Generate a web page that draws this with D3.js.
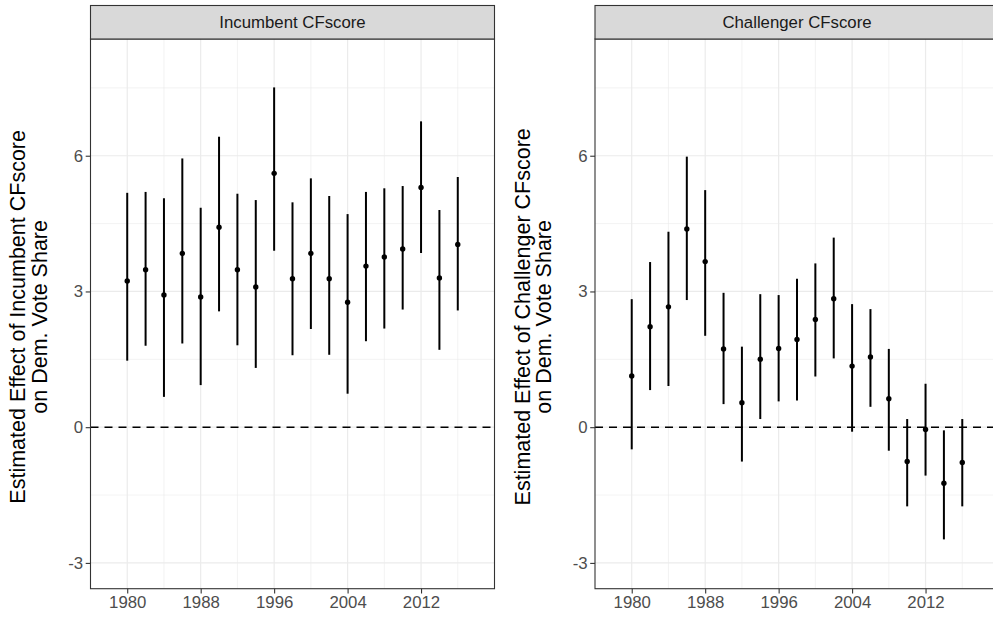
<!DOCTYPE html>
<html>
<head>
<meta charset="utf-8">
<script src="https://cdn.jsdelivr.net/npm/d3@7"></script>
<style>
  body { margin: 0; background: #fff; }
  svg { display: block; font-family: "Liberation Sans", Arial, sans-serif; }
</style>
</head>
<body>
<div id="chart"></div>
<script>
// election years (one estimate per cycle)
const years = [1980, 1982, 1984, 1986, 1988, 1990, 1992, 1994, 1996, 1998,
               2000, 2002, 2004, 2006, 2008, 2010, 2012, 2014, 2016];

// Incumbent CFscore: estimate and 95% interval
const incEst = [3.23, 3.48, 2.92, 3.84, 2.88, 4.42, 3.48, 3.10, 5.61, 3.28,
                3.84, 3.28, 2.76, 3.56, 3.76, 3.94, 5.30, 3.30, 4.04];
const incLo  = [1.47, 1.80, 0.67, 1.85, 0.93, 2.56, 1.81, 1.31, 3.90, 1.59,
                2.17, 1.60, 0.74, 1.90, 2.18, 2.60, 3.85, 1.71, 2.58];
const incHi  = [5.18, 5.20, 5.06, 5.94, 4.85, 6.42, 5.16, 5.02, 7.51, 4.97,
                5.50, 5.11, 4.71, 5.20, 5.28, 5.33, 6.76, 4.80, 5.53];

// Challenger CFscore: estimate and 95% interval
const chaEst = [1.13, 2.22, 2.66, 4.38, 3.66, 1.73, 0.54, 1.50, 1.74, 1.94,
                2.38, 2.84, 1.35, 1.55, 0.63, -0.76, -0.05, -1.24, -0.78];
const chaLo  = [-0.49, 0.82, 0.91, 2.81, 2.02, 0.51, -0.76, 0.18, 0.57, 0.59,
                1.12, 1.52, -0.10, 0.45, -0.52, -1.75, -1.07, -2.48, -1.75];
const chaHi  = [2.83, 3.65, 4.32, 5.98, 5.24, 2.97, 1.78, 2.94, 2.92, 3.28,
                3.62, 4.19, 2.72, 2.61, 1.73, 0.18, 0.96, -0.07, 0.18];

const xTicks = [1980, 1988, 1996, 2004, 2012];
const xMinor = [1984, 1992, 2000, 2008, 2016];
const yTicks = [-3, 0, 3, 6];
const yMinor = [-1.5, 1.5, 4.5, 7.5];

const panels = [
  {strip: "Incumbent CFscore", est: incEst, lo: incLo, hi: incHi,
   title: ["Estimated Effect of Incumbent CFscore", "on Dem. Vote Share"], left: 90.5},
  {strip: "Challenger CFscore", est: chaEst, lo: chaLo, hi: chaHi,
   title: ["Estimated Effect of Challenger CFscore", "on Dem. Vote Share"], left: 595}
];

const W = 993, H = 617;
const panelW = 404, panelTop = 39, panelBottom = 588.7, stripTop = 5.5;
const ph = panelBottom - panelTop;

const svg = d3.select("#chart").append("svg")
    .attr("width", W)
    .attr("height", H);

const x = d3.scaleLinear().domain([1976, 2020]).range([0, panelW]);
const y = d3.scaleLinear().domain([-3.57, 8.58]).range([ph, 0]);

panels.forEach(p => {
    const g = svg.append("g").attr("transform", `translate(${p.left}, ${panelTop})`);

    // background + grid
    g.append("rect").attr("width", panelW).attr("height", ph).attr("fill", "#fff");
    g.selectAll(".ymin").data(yMinor).enter().append("line")
        .attr("x1", 0).attr("x2", panelW)
        .attr("y1", d => y(d)).attr("y2", d => y(d))
        .attr("stroke", "#ebebeb").attr("stroke-width", 0.6);
    g.selectAll(".xmin").data(xMinor).enter().append("line")
        .attr("y1", 0).attr("y2", ph)
        .attr("x1", d => x(d)).attr("x2", d => x(d))
        .attr("stroke", "#ebebeb").attr("stroke-width", 0.6);
    g.selectAll(".ymaj").data(yTicks).enter().append("line")
        .attr("x1", 0).attr("x2", panelW)
        .attr("y1", d => y(d)).attr("y2", d => y(d))
        .attr("stroke", "#ebebeb").attr("stroke-width", 1.2);
    g.selectAll(".xmaj").data(xTicks).enter().append("line")
        .attr("y1", 0).attr("y2", ph)
        .attr("x1", d => x(d)).attr("x2", d => x(d))
        .attr("stroke", "#ebebeb").attr("stroke-width", 1.2);

    // zero reference line
    g.append("line")
        .attr("x1", 0).attr("x2", panelW)
        .attr("y1", y(0)).attr("y2", y(0))
        .attr("stroke", "#000").attr("stroke-width", 1.6)
        .attr("stroke-dasharray", "8,6");

    // error bars and points
    g.selectAll(".bar").data(years).enter().append("line")
        .attr("x1", d => x(d)).attr("x2", d => x(d))
        .attr("y1", (d, i) => y(p.lo[i])).attr("y2", (d, i) => y(p.hi[i]))
        .attr("stroke", "#000").attr("stroke-width", 2);
    g.selectAll(".pt").data(years).enter().append("circle")
        .attr("cx", d => x(d)).attr("cy", (d, i) => y(p.est[i]))
        .attr("r", 2.7).attr("fill", "#000");

    // border
    g.append("rect").attr("width", panelW).attr("height", ph)
        .attr("fill", "none").attr("stroke", "#333").attr("stroke-width", 1.1);

    // axes
    const xa = g.append("g").attr("transform", `translate(0, ${ph})`)
        .call(d3.axisBottom(x).tickValues(xTicks).tickFormat(d => String(d)).tickSize(4.8).tickPadding(3));
    const ya = g.append("g")
        .call(d3.axisLeft(y).tickValues(yTicks).tickFormat(d => String(d)).tickSize(4.8).tickPadding(2.5));
    [xa, ya].forEach(a => {
        a.select(".domain").remove();
        a.selectAll("line").attr("stroke", "#333").attr("stroke-width", 1.1);
        a.selectAll("text").attr("fill", "#4d4d4d")
            .style("font-size", "16.8px").style("font-family", "Liberation Sans, Arial, sans-serif");
    });

    // strip
    svg.append("rect")
        .attr("x", p.left).attr("y", stripTop)
        .attr("width", panelW).attr("height", panelTop - stripTop)
        .attr("fill", "#d9d9d9").attr("stroke", "#333").attr("stroke-width", 1.1);
    svg.append("text")
        .attr("x", p.left + panelW / 2).attr("y", (panelTop + stripTop) / 2)
        .attr("text-anchor", "middle").attr("dominant-baseline", "central")
        .attr("fill", "#1a1a1a").style("font-size", "16.8px")
        .text(p.strip);

    // y axis title (two lines)
    const t = svg.append("text")
        .attr("transform", `translate(${p.left - 65.5}, ${(panelTop + panelBottom) / 2 + 3}) rotate(-90)`)
        .attr("text-anchor", "middle")
        .attr("fill", "#000").style("font-size", "21.5px");
    t.append("tspan").attr("x", 0).attr("dy", 0).text(p.title[0]);
    t.append("tspan").attr("x", 0).attr("dy", 21.5).text(p.title[1]);
});
</script>
</body>
</html>
